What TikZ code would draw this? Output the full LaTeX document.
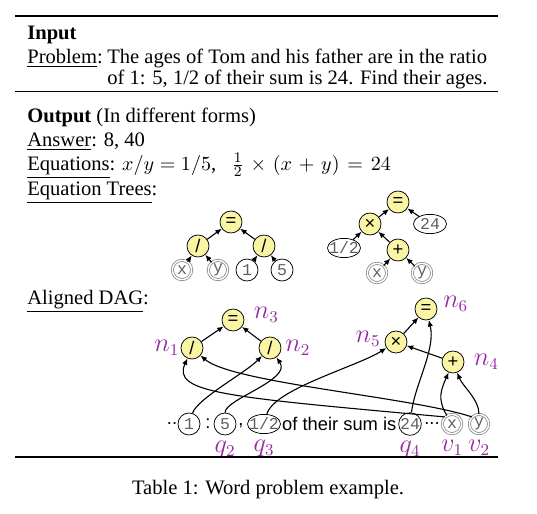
\documentclass[tikz,border=0pt]{standalone}
\usepackage[no-math]{fontspec}
\setmainfont{Liberation Serif}
\setsansfont{Liberation Sans}
\setmonofont{Liberation Mono}
\usepackage{amsmath}
\usepackage{xcolor}
\usetikzlibrary{arrows.meta,positioning,shapes.geometric}
\definecolor{opfill}{RGB}{250,244,165}
\definecolor{tagpurple}{RGB}{150,40,160}
\definecolor{leafgray}{RGB}{95,95,95}
\newcommand\bodyfont{\fontsize{11.2}{13.5}\selectfont}
\newcommand\leaffont{\fontsize{9}{10}\selectfont\ttfamily}
\newcommand\tagfont{\fontsize{13.5}{15}\selectfont}

\begin{document}
\begin{tikzpicture}[
   x=0.545pt,y=-0.545pt,
   txt/.style={anchor=base west,inner sep=0pt,font=\bodyfont},
   op/.style={circle,draw,fill=opfill,minimum size=12pt,inner sep=0pt,font=\sffamily},
   var/.style={circle,draw=gray,double,double distance=0.8pt,minimum size=10.5pt,
               inner sep=0pt,font=\leaffont,text=leafgray},
   num/.style={circle,draw,minimum size=12pt,inner sep=0pt,font=\leaffont,text=leafgray},
   numell/.style={ellipse,draw,inner xsep=-2pt,inner ysep=0pt,minimum width=18pt,
                  minimum height=10.5pt,font=\leaffont,text=leafgray},
   tag/.style={text=tagpurple,font=\tagfont,inner sep=0pt},
   link/.style={line width=0.6pt,-{Latex[length=3.5pt,width=3pt]}},
   sep/.style={font=\sffamily,inner sep=0pt}
]
\useasboundingbox (0,0) rectangle (537,513);

% =========== Input ============
\draw[line width=0.8pt] (15,16) -- (498,16);
\node[txt,font=\bodyfont\bfseries] (inhead) at (27,39) {Input};
\node[txt] (probkey) at (27,63) {\underline{Problem}:};
\node[txt] (prob) at (107,63) {The ages of Tom and his father are in the ratio};
\node[txt] (prob2) at (107,84) {of 1: 5, 1/2 of their sum is 24. Find their ages.};
\draw[line width=0.5pt] (15,91) -- (498,91);

% =========== Output ============
\node[txt] (outhead) at (27,122) {\textbf{Output} (In different forms)};
\node[txt] (ans) at (27,146) {\underline{Answer}: 8, 40};
\node[txt] (eqs) at (27,170)
   {\underline{Equations}: $x/y=1/5$,\hspace{0.75em}%
    $\medmuskip=6mu\thickmuskip=7mu \frac{1}{2}\times(x+y)=24$};
\node[txt] (trees) at (27,195) {\underline{Equation Trees}:};

% tree for x/y = 1/5
\node[op]  (t1eq) at (231,222) {=};
\node[op]  (t1dl) at (198,246) {/};
\node[op]  (t1dr) at (264,246) {/};
\node[var] (t1x)  at (182,270) {x};
\node[var] (t1y)  at (218,270) {y};
\node[num] (t1a)  at (247,270) {1};
\node[num] (t1b)  at (282,270) {5};
\foreach \s/\t in {t1x/t1dl,t1y/t1dl,t1a/t1dr,t1b/t1dr,t1dl/t1eq,t1dr/t1eq}
  \draw[link] (\s) -- (\t);

% tree for 1/2 * (x+y) = 24
\node[op]     (t2eq)  at (398,202) {=};
\node[op]     (t2mul) at (370,224) {×};
\node[numell] (t2c)   at (430,224) {24};
\node[numell] (t2h)   at (344,248) {1/2};
\node[op]     (t2add) at (398,250) {+};
\node[var]    (t2x)   at (377,273) {x};
\node[var]    (t2y)   at (422,273) {y};
\foreach \s/\t in {t2x/t2add,t2y/t2add,t2h/t2mul,t2add/t2mul,t2mul/t2eq,t2c/t2eq}
  \draw[link] (\s) -- (\t);

% =========== Aligned DAG ============
\node[txt] (dag) at (27,304) {\underline{Aligned DAG}:};

\node[op] (n3) at (233,320) {=};
\node[op] (n1) at (192,348) {/};
\node[op] (n2) at (270,348) {/};
\node[op] (n6) at (426,309) {=};
\node[op] (n5) at (396,342) {×};
\node[op] (n4) at (453,362) {+};

\node[tag,right=5pt of n3,yshift=3pt] (n3tag) {$n_3$};
\node[tag,left=0.5pt of n1]           (n1tag) {$n_1$};
\node[tag,right=2pt of n2]            (n2tag) {$n_2$};
\node[tag,right=3pt of n6,yshift=3pt] (n6tag) {$n_6$};
\node[tag,left=2pt of n5,yshift=2pt]  (n5tag) {$n_5$};
\node[tag,right=5pt of n4]            (n4tag) {$n_4$};

% sentence with aligned quantities
\node[sep]    (dotsa) at (172,424) {..};
\node[num]    (q1)    at (189,424) {1};
\node[sep]    (colon) at (208,424) {:};
\node[num]    (q2)    at (225,424) {5};
\node[sep]    (comma) at (241,426) {,};
\node[numell] (q3)    at (264,424) {1/2};
\node[sep,anchor=west] (sumtxt) at ([xshift=0.5pt]q3.east) {of their sum is};
\node[num]    (q4)    at (410,424) {24};
\node[sep]    (dotsb) at (432,424) {...};
\node[var]    (v1)    at (452,424) {x};
\node[var]    (v2)    at (479,424) {y};

\node[tag,below=3pt of q2] (q2tag) {$q_2$};
\node[tag,below=3pt of q3] (q3tag) {$q_3$};
\node[tag,below=3pt of q4] (q4tag) {$q_4$};
\node[tag,below=3pt of v1] (v1tag) {$v_1$};
\node[tag,below=3pt of v2] (v2tag) {$v_2$};

\draw[link] (n1) -- (n3);
\draw[link] (n2) -- (n3);
\draw[link] (n5) -- (n6);
\draw[link] (n4) -- (n5);
\draw[link] (q1) .. controls +(8,-25) and +(-25,25) .. (n2);
\draw[link] (q2) .. controls +(0,-25) and +(22,32) .. (n2);
\draw[link] (q3) .. controls +(10,-35) and +(-40,25) .. (n5);
\draw[link] (q4) .. controls +(5,-40) and +(10,40) .. (n6);
\draw[link] (v1) .. controls +(-15,-25) and +(-12,28) .. (n4);
\draw[link] (v2) .. controls +(0,-25) and +(10,25) .. (n4);
\draw[link] (v1.north west) .. controls +(-220,-20) and +(-20,45) .. (n1);
\draw[link] (v2.north west) .. controls +(-60,-20) and +(40,35) .. (n1);

\draw[line width=0.8pt] (15,457) -- (498,457);

% caption
\node[font=\bodyfont] (caption) at (268,490) {Table 1: Word problem example.};

\end{tikzpicture}
\end{document}
